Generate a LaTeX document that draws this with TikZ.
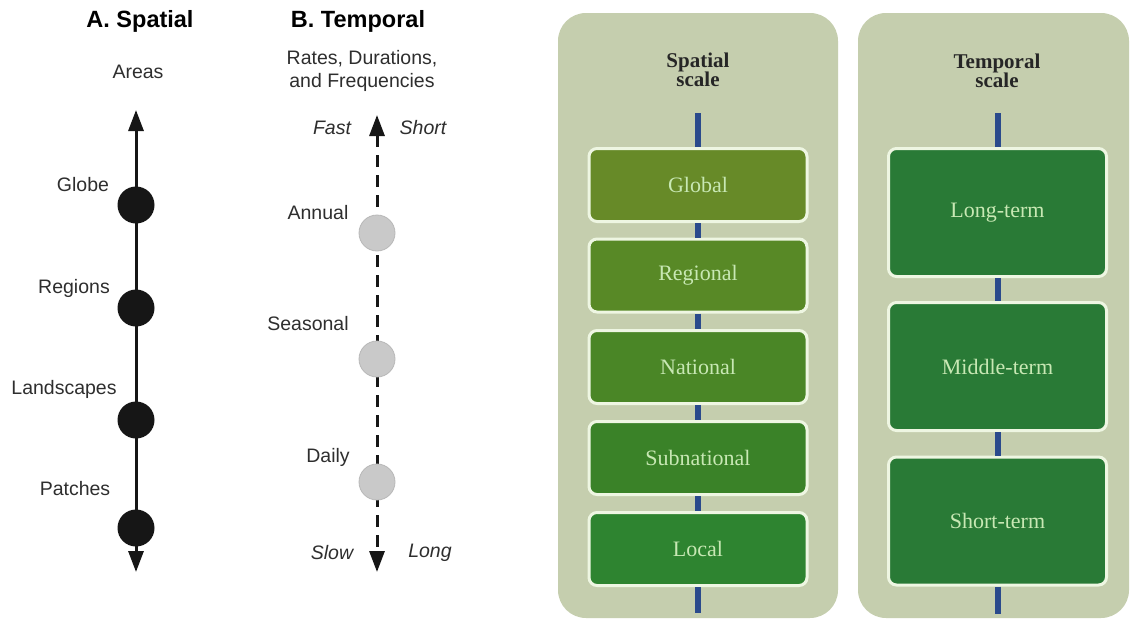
\documentclass[tikz,border=0pt]{standalone}
\usepackage{fontspec}
\setmainfont{Liberation Serif}
\setsansfont{Liberation Sans}
\usetikzlibrary{arrows.meta}
\definecolor{labgray}{HTML}{2E2E2E}
\definecolor{dotblack}{HTML}{161616}
\definecolor{dotgray}{HTML}{C9C9C9}
\definecolor{dotgrayb}{HTML}{B8B8B8}
\definecolor{panelsage}{RGB}{197,206,174}
\definecolor{boxedge}{HTML}{EEF6E2}
\definecolor{barblue}{HTML}{2A4A8C}
\definecolor{boxtext}{HTML}{C8E8B4}
\definecolor{cglobal}{RGB}{103,138,40}
\definecolor{cregional}{RGB}{88,137,38}
\definecolor{cnational}{RGB}{74,134,38}
\definecolor{csubnat}{RGB}{58,130,40}
\definecolor{clocal}{RGB}{46,132,48}
\definecolor{ctemporal}{RGB}{41,122,54}
\begin{document}
\begin{tikzpicture}[x=1pt,y=-1pt,
  lab/.style={font=\fontsize{19.5}{23}\selectfont\sffamily, text=labgray, inner sep=0pt},
  ilab/.style={lab, font=\fontsize{19.5}{23}\selectfont\sffamily\itshape},
  head/.style={font=\fontsize{23.5}{27}\selectfont\sffamily\bfseries, text=black, inner sep=0pt},
  axisline/.style={line width=3pt, draw=dotblack, {Triangle[length=21pt,width=15pt]}-{Triangle[length=21pt,width=15pt]}},
  dashline/.style={axisline, dash pattern=on 12pt off 8pt},
  bdot/.style={circle, fill=dotblack, minimum size=37pt, inner sep=0pt},
  gdot/.style={circle, fill=dotgray, draw=dotgrayb, line width=0.8pt, minimum size=36pt, inner sep=0pt},
  panel/.style={fill=panelsage, rounded corners=28pt, minimum width=280pt, inner sep=0pt},
  ptitle/.style={font=\fontsize{21}{19.5}\selectfont\rmfamily\bfseries, text=black!85, align=center, inner sep=0pt},
  sbox/.style={draw=boxedge, line width=3pt, rounded corners=8pt, minimum width=218pt, minimum height=73pt,
     inner sep=0pt, font=\fontsize{22}{26}\selectfont\rmfamily, text=boxtext},
  tbox/.style={sbox, fill=ctemporal, minimum height=128pt},
  bar/.style={draw=barblue, line width=6pt}
]
\useasboundingbox (0,0) rectangle (1132,621);
\fill[white] (0,0) rectangle (1132,621);

% ---------- A. Spatial ----------
\node[head] (ha) at (140,21) {A. Spatial};
\node[lab] (areas) at (138,72) {Areas};
\coordinate (atop) at (136,110);
\coordinate (abot) at (136,572);
\draw[axisline] (atop) -- (abot);
\node[bdot] (d1) at (136,205) {};
\node[bdot] (d2) at (136,308) {};
\node[bdot] (d3) at (136,420) {};
\node[bdot] (d4) at (136,528) {};
\node[lab] (lglobe) at (83,185) {Globe};
\node[lab] (lregions) at (74,288) {Regions};
\node[lab] (lland) at (64,389) {Landscapes};
\node[lab] (lpatch) at (75,489) {Patches};

% ---------- B. Temporal ----------
\node[head] (hb) at (358,21) {B. Temporal};
\node[lab, align=center] (rates) at (362,71) {Rates, Durations,\\and Frequencies};
\coordinate (btop) at (377,115);
\coordinate (bbot) at (377,572);
\draw[dashline] (btop) -- (bbot);
\node[gdot] (e1) at (377,233) {};
\node[gdot] (e2) at (377,359) {};
\node[gdot] (e3) at (377,482) {};
\node[lab] (lannual) at (318,213) {Annual};
\node[lab] (lseason) at (308,324) {Seasonal};
\node[lab] (ldaily) at (328,457) {Daily};
\node[ilab] (lfast) at (332,128) {Fast};
\node[ilab] (lshort) at (423,128) {Short};
\node[ilab] (lslow) at (332,553) {Slow};
\node[ilab] (llong) at (430,553) {Long};

% ---------- Spatial scale panel ----------
\node[panel, minimum height=605pt] (psp) at (698,315.5) {};
\node[ptitle] (tsp) at (698,70) {Spatial\\scale};
\node[sbox, fill=cglobal] (sg) at (698,185) {Global};
\node[sbox, fill=cregional] (sr) at (698,275.5) {Regional};
\node[sbox, fill=cnational] (sn) at (698,367) {National};
\node[sbox, fill=csubnat] (ss) at (698,458) {Subnational};
\node[sbox, fill=clocal] (sl) at (698,549) {Local};
\coordinate (sptop) at (698,113);
\coordinate (spbot) at (698,613);
\draw[bar] (sptop) -- (sg.north);
\draw[bar] (sg.south) -- (sr.north);
\draw[bar] (sr.south) -- (sn.north);
\draw[bar] (sn.south) -- (ss.north);
\draw[bar] (ss.south) -- (sl.north);
\draw[bar] (sl.south) -- (spbot);

% ---------- Temporal scale panel ----------
\node[panel, minimum width=271pt, minimum height=605pt] (ptp) at (993.5,315.5) {};
\node[ptitle] (ttp) at (997,71) {Temporal\\scale};
\node[tbox] (tl) at (997.5,212.5) {Long-term};
\node[tbox] (tm) at (997.5,366.5) {Middle-term};
\node[tbox] (ts) at (997.5,521) {Short-term};
\coordinate (tptop) at (997.5,113);
\coordinate (tpbot) at (997.5,614);
\draw[bar] (tptop) -- (tl.north);
\draw[bar] (tl.south) -- (tm.north);
\draw[bar] (tm.south) -- (ts.north);
\draw[bar] (ts.south) -- (tpbot);
\end{tikzpicture}
\end{document}
